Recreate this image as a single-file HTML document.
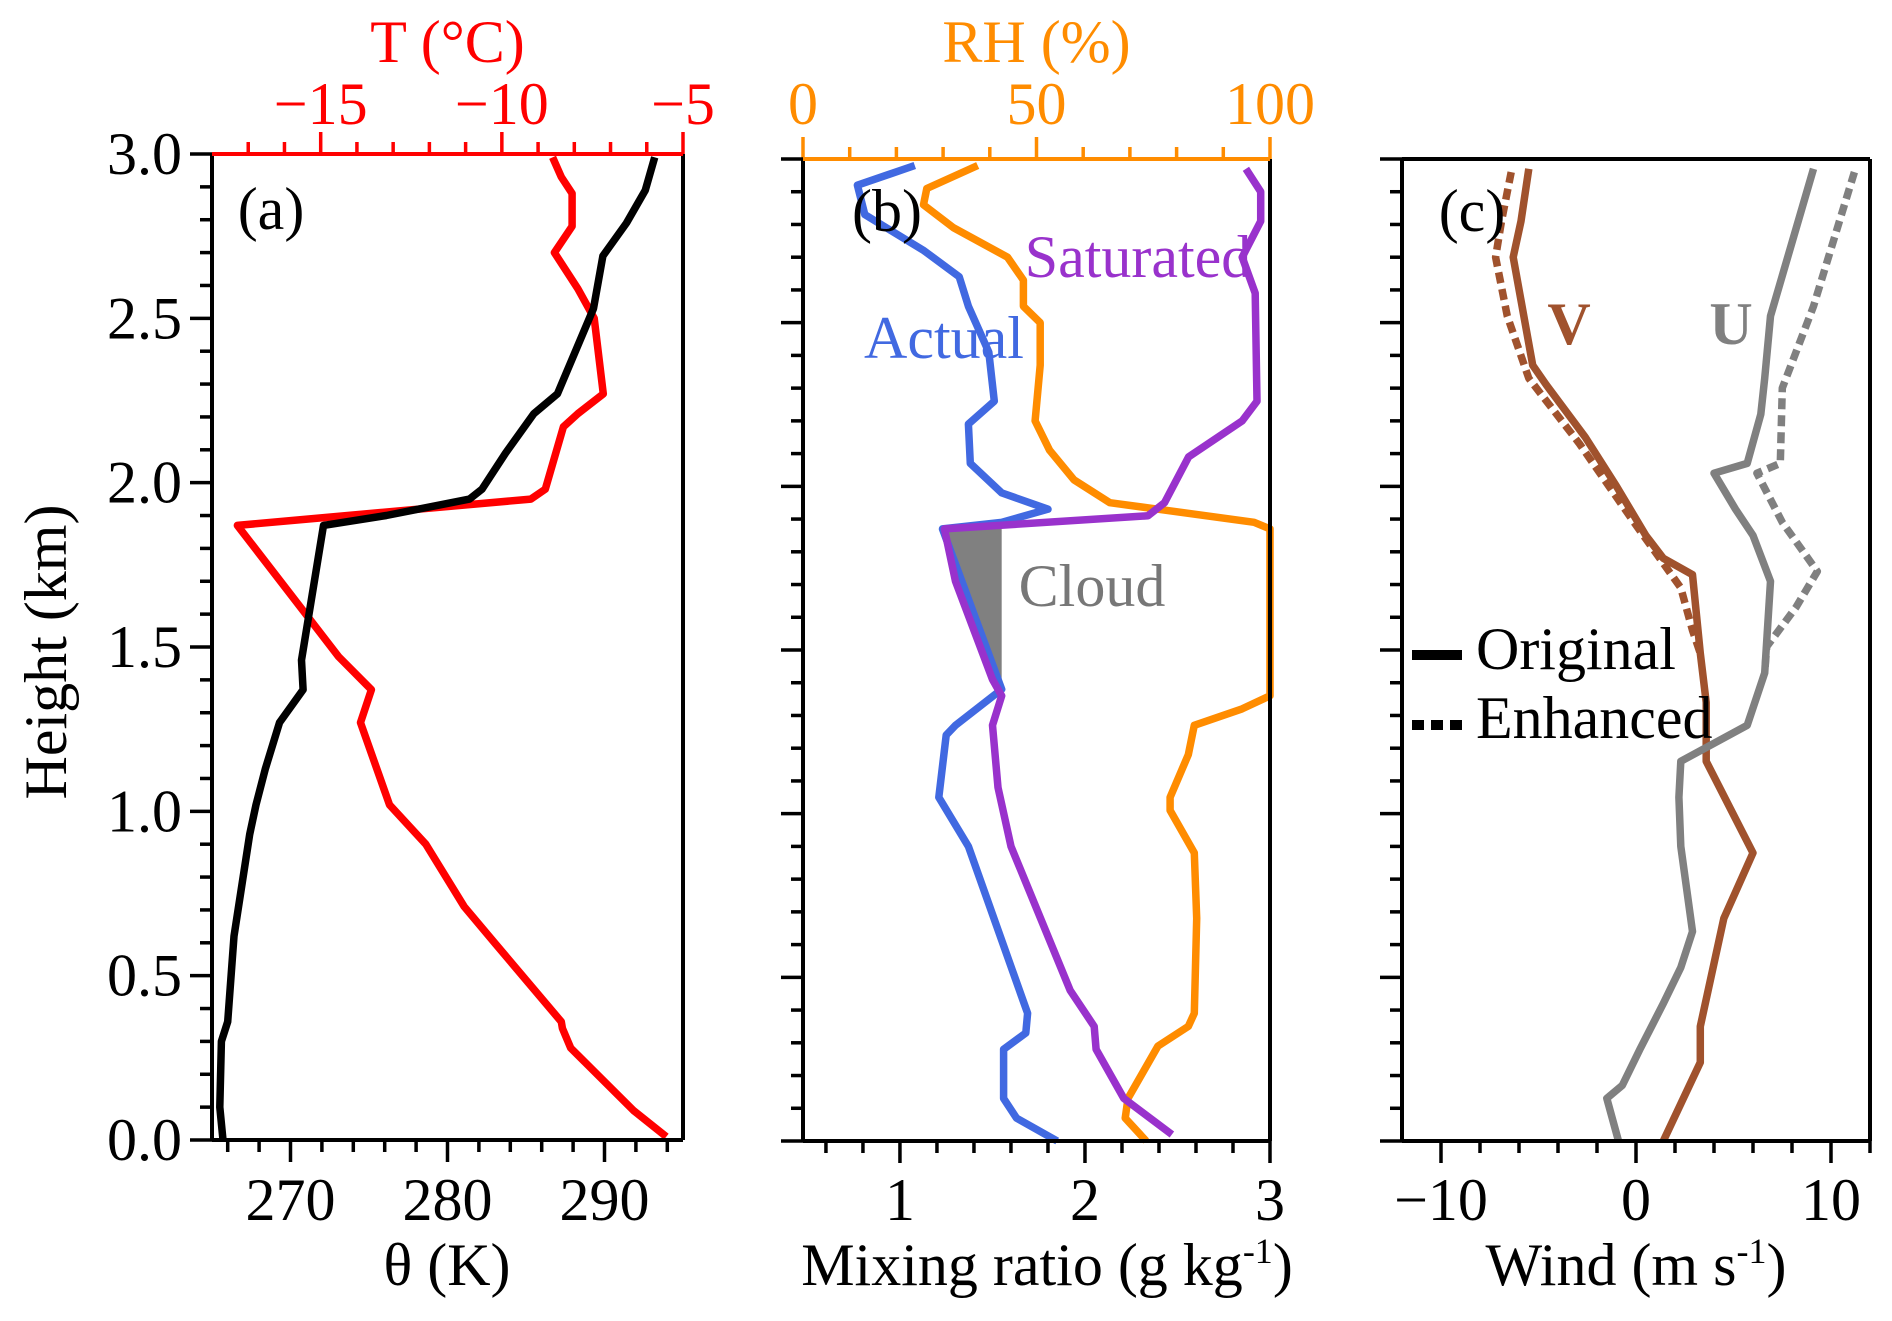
<!DOCTYPE html>
<html><head><meta charset="utf-8"><style>
html,body{margin:0;padding:0;background:#fff;}
svg text{font-family:"Liberation Serif",serif;}
</style></head><body>
<svg id="chart" width="1892" height="1316" viewBox="0 0 1892 1316" xmlns="http://www.w3.org/2000/svg"></svg>
<script>
// ---------- data ----------
// Panel (a)
const thetaH = [0,0.10,0.30,0.36,0.62,0.93,1.02,1.13,1.27,1.37,1.46,1.87,1.90,1.95,1.98,2.09,2.21,2.27,2.53,2.69,2.79,2.89,2.99];
const thetaV = [265.7,265.5,265.6,266.0,266.4,267.4,267.8,268.4,269.3,270.8,270.7,272.1,276.1,281.4,282.2,283.7,285.5,287.0,289.3,289.9,291.4,292.6,293.2];
const tempH = [0.01,0.09,0.28,0.34,0.36,0.60,0.71,0.90,1.02,1.27,1.37,1.47,1.87,1.95,1.98,2.17,2.21,2.27,2.50,2.59,2.70,2.78,2.88,2.93,2.99];
const tempV = [-5.46,-6.37,-8.1,-8.33,-8.36,-10.2,-11.04,-12.1,-13.1,-13.9,-13.6,-14.5,-17.3,-9.2,-8.8,-8.3,-7.9,-7.2,-7.45,-7.9,-8.55,-8.06,-8.06,-8.36,-8.6];
// Panel (b)
const actualH = [2.98,2.92,2.83,2.72,2.64,2.55,2.41,2.26,2.19,2.07,1.98,1.93,1.89,1.87,1.38,1.27,1.24,1.05,0.90,0.39,0.33,0.28,0.13,0.07,0.0];
const actualV = [1.08,0.77,0.81,1.13,1.32,1.37,1.48,1.51,1.37,1.38,1.55,1.80,1.55,1.23,1.55,1.30,1.25,1.21,1.37,1.69,1.68,1.56,1.56,1.63,1.85];
const satH = [2.97,2.90,2.81,2.70,2.59,2.26,2.20,2.09,1.95,1.91,1.87,1.71,1.56,1.41,1.36,1.27,1.08,0.90,0.68,0.46,0.35,0.28,0.13,0.02];
const satV = [2.87,2.95,2.95,2.85,2.92,2.93,2.85,2.56,2.43,2.34,1.24,1.30,1.40,1.50,1.55,1.50,1.53,1.60,1.76,1.92,2.05,2.06,2.21,2.47];
const rhH = [2.98,2.91,2.86,2.79,2.70,2.63,2.55,2.50,2.37,2.20,2.11,2.02,1.95,1.93,1.89,1.87,1.36,1.32,1.27,1.18,1.05,1.01,0.88,0.68,0.39,0.35,0.29,0.13,0.07,0.0];
const rhV = [37.4,26.5,25.8,32.2,43.8,47.2,47.2,50.8,50.8,49.7,52.8,58,65.7,76,96.6,100,100,94,83.8,82.5,78.6,78.6,83.8,84.3,83.8,82.5,76,69.6,69,73.5];
const cloudTop = 1.875, cloudBottom = 1.36, cloudEdge = 1.55;
// Panel (c)
const vH = [2.97,2.81,2.70,2.37,2.31,2.15,2.0,1.85,1.78,1.73,1.49,1.34,1.16,0.88,0.68,0.35,0.24,0.0];
const vOrig = [-5.5,-5.9,-6.3,-5.3,-4.6,-2.6,-1.0,0.5,1.4,2.9,3.3,3.6,3.6,6.0,4.5,3.3,3.3,1.4];
const vEnhH = [2.96,2.81,2.70,2.52,2.33,2.13,1.89,1.69,1.56,1.49];
const vEnh = [-6.4,-6.9,-7.2,-6.6,-5.5,-2.9,-0.1,2.3,2.9,3.3];
const uH = [2.97,2.52,2.33,2.22,2.07,2.04,1.93,1.85,1.71,1.43,1.27,1.16,1.05,0.90,0.64,0.53,0.42,0.28,0.17,0.13,0.0];
const uOrig = [9.1,6.9,6.6,6.4,5.7,4.0,5.1,6.0,6.9,6.6,5.7,2.3,2.2,2.3,2.9,2.3,1.4,0.2,-0.7,-1.5,-0.9];
const uEnhH = [2.96,2.55,2.30,2.07,2.04,1.89,1.74,1.63,1.51,1.43];
const uEnh = [11.2,9.1,7.5,7.4,6.2,7.5,9.3,8.2,6.7,6.6];
// tick labels
const hTicks = ["0.0","0.5","1.0","1.5","2.0","2.5","3.0"];
const thetaTicks = [270,280,290];
const tTicks = [-15,-10,-5];
const mrTicks = [1,2,3];
const rhTicks = [0,50,100];
const windTicks = [-10,0,10];

// ---------- helpers ----------
const NS = "http://www.w3.org/2000/svg";
const svg = document.getElementById("chart");
const FS = 60, LW = 7.5;
function mk(tag, attrs, parent) {
  const e = document.createElementNS(NS, tag);
  for (const k in attrs) e.setAttribute(k, attrs[k]);
  (parent || svg).appendChild(e);
  return e;
}
function lin(d0, d1, r0, r1) { return v => r0 + (v - d0) / (d1 - d0) * (r1 - r0); }
function txt(x, y, s, size, color, anchor, name, extra) {
  const t = mk("text", Object.assign({x: x, y: y, "font-size": size, fill: color, "text-anchor": anchor || "middle"}, extra || {}));
  t.textContent = s;
  
  
  return t;
}
function fmt(v) { return v < 0 ? "\u2212" + Math.abs(v) : String(v); }
function poly(xs, ys, sx, sy, color, w, name, dash) {
  const pts = xs.map((v, i) => sx(v).toFixed(1) + "," + sy(ys[i]).toFixed(1)).join(" ");
  const a = {points: pts, fill: "none", stroke: color, "stroke-width": w, "stroke-linejoin": "round"};
  if (dash) a["stroke-dasharray"] = dash;
  const p = mk("polyline", a);
  
  
  return p;
}
function tick(x1, y1, x2, y2, color, name) {
  const l = mk("line", {x1: x1, y1: y1, x2: x2, y2: y2, stroke: color, "stroke-width": 3.5});
  
  
}
function heightAxis(sy, x, label) {
  for (let i = 0; i <= 30; i++) {
    const y = sy(i / 10), major = i % 5 === 0;
    tick(x, y, x - (major ? 22 : 12), y, "#000", major ? "y-major-tick" : "y-minor-tick");
    if (major && label) txt(x - 30, y + 20, hTicks[i / 5], FS, "#000", "end", "y-tick-label");
  }
}
function box(x0, y0, x1, y1, topColor, name) {
  const g = mk("g", {});
  
  
  mk("line", {x1: x0, y1: y1, x2: x1, y2: y1, stroke: "#000", "stroke-width": 4}, g);
  mk("line", {x1: x0, y1: y0, x2: x0, y2: y1, stroke: "#000", "stroke-width": 4}, g);
  mk("line", {x1: x1, y1: y0, x2: x1, y2: y1, stroke: "#000", "stroke-width": 4}, g);
  mk("line", {x1: x0, y1: y0, x2: x1, y2: y0, stroke: topColor, "stroke-width": 4}, g);
}

// ---------- panel (a) ----------
const aL = 212, aR = 683, aT = 154, aB = 1140;
const syA = lin(0, 3, aB, aT);
const sTheta = lin(265, 295, aL, aR);
const sT = lin(-18, -5, aL, aR);
for (let k = 266; k <= 294; k += 2) {
  const major = k % 10 === 0;
  tick(sTheta(k), aB, sTheta(k), aB + (major ? 22 : 12), "#000", "theta-tick");
}
thetaTicks.forEach(v => txt(sTheta(v), 1220, String(v), FS, "#000", "middle", "theta-tick-label"));
for (let k = -17; k <= -5; k++) {
  const major = k % 5 === 0;
  tick(sT(k), aT, sT(k), aT - (major ? 22 : 12), "#ff0000", "temperature-tick");
}
tTicks.forEach(v => txt(sT(v), 124, fmt(v), FS, "#ff0000", "middle", "temperature-tick-label"));
heightAxis(syA, aL, true);
poly(tempV, tempH, sT, syA, "#ff0000", LW, "temperature-line");
poly(thetaV, thetaH, sTheta, syA, "#000", LW, "theta-line");
box(aL, aT, aR, aB, "#ff0000", "panel-a-frame");
txt(271, 229, "(a)", FS, "#000", "middle", "panel-a-label");
txt(sT(-11.5), 62, "T (\u00B0C)", FS, "#ff0000", "middle", "temperature-axis-title");
txt(447, 1285, "\u03B8 (K)", FS, "#000", "middle", "theta-axis-title");
txt(46, 652, "Height (km)", FS, "#000", "middle", "y-axis-title", {transform: "rotate(-90 46 652)", dy: "20"});

// ---------- panel (b) ----------
const bL = 803, bR = 1270, bT = 159, bB = 1141;
const syB = lin(0, 3, bB, bT);
const sMR = lin(0.476, 3, bL, bR);
const sRH = lin(0, 100, bL, bR);
for (let k = 6; k <= 30; k += 2) {
  const v = k / 10, major = k % 10 === 0;
  tick(sMR(v), bB, sMR(v), bB + (major ? 22 : 12), "#000", "mixing-ratio-tick");
}
mrTicks.forEach(v => txt(sMR(v), 1220, String(v), FS, "#000", "middle", "mixing-ratio-tick-label"));
for (let k = 0; k <= 100; k += 10) {
  const major = k % 50 === 0;
  tick(sRH(k), bT, sRH(k), bT - (major ? 22 : 12), "#ff8c00", "rh-tick");
}
rhTicks.forEach(v => txt(sRH(v), 124, String(v), FS, "#ff8c00", "middle", "rh-tick-label"));
heightAxis(syB, bL, false);
// cloud shading
{
  const xs = [], ys = [];
  satH.forEach((h, i) => { if (h <= cloudTop && h >= cloudBottom) { xs.push(satV[i]); ys.push(h); } });
  xs.push(cloudEdge); ys.push(cloudBottom);
  xs.push(cloudEdge); ys.push(cloudTop + 0.01);
  const pts = xs.map((v, i) => sMR(v).toFixed(1) + "," + syB(ys[i]).toFixed(1)).join(" ");
  const c = mk("polygon", {points: pts, fill: "#808080", stroke: "none"});
  
  
}
poly(actualV, actualH, sMR, syB, "#4169e1", LW, "actual-mixing-ratio-line");
poly(rhV, rhH, sRH, syB, "#ff8c00", LW, "rh-line");
poly(satV, satH, sMR, syB, "#9932cc", LW, "saturated-mixing-ratio-line");
box(bL, bT, bR, bB, "#ff8c00", "panel-b-frame");
txt(887, 231, "(b)", FS, "#000", "middle", "panel-b-label");
txt(1138, 277, "Saturated", FS, "#9932cc", "middle", "saturated-label");
txt(944, 358, "Actual", FS, "#4169e1", "middle", "actual-label");
txt(1092, 606, "Cloud", FS, "#777", "middle", "cloud-label");
txt(sRH(50), 62, "RH (%)", FS, "#ff8c00", "middle", "rh-axis-title");
{
  const t = txt(1047, 1285, "Mixing ratio (g kg", FS, "#000", "middle", "mixing-ratio-axis-title");
  const sup = mk("tspan", {dy: "-22", "font-size": 36}, t); sup.textContent = "-1";
  const cl = mk("tspan", {dy: "22"}, t); cl.textContent = ")";
}

// ---------- panel (c) ----------
const cL = 1402, cR = 1870, cT = 159, cB = 1141;
const syC = lin(0, 3, cB, cT);
const sW = lin(-12, 12, cL, cR);
for (let k = -10; k <= 12; k += 2) {
  const major = k % 10 === 0;
  tick(sW(k), cB, sW(k), cB + (major ? 22 : 12), "#000", "wind-tick");
}
windTicks.forEach(v => txt(sW(v), 1220, fmt(v), FS, "#000", "middle", "wind-tick-label"));
heightAxis(syC, cL, false);
poly(vEnh, vEnhH, sW, syC, "#a0522d", LW, "v-enhanced-line", "11,6");
poly(uEnh, uEnhH, sW, syC, "#808080", LW, "u-enhanced-line", "11,6");
poly(vOrig, vH, sW, syC, "#a0522d", LW, "v-original-line");
poly(uOrig, uH, sW, syC, "#808080", LW, "u-original-line");
box(cL, cT, cR, cB, "#000", "panel-c-frame");
txt(1472, 231, "(c)", FS, "#000", "middle", "panel-c-label");
txt(1569, 344, "V", FS, "#a0522d", "middle", "v-label", {"font-weight": "bold"});
txt(1731, 344, "U", FS, "#808080", "middle", "u-label", {"font-weight": "bold"});
{
  const g = mk("g", {});
  
  
  const l1 = mk("line", {x1: 1412, y1: 655, x2: 1462, y2: 655, stroke: "#000", "stroke-width": 10}, g);
  
  
  const l2 = mk("line", {x1: 1412, y1: 725, x2: 1462, y2: 725, stroke: "#000", "stroke-width": 10, "stroke-dasharray": "12,7"}, g);
  
  
}
txt(1476, 669, "Original", FS, "#000", "start", "legend-original-label");
txt(1476, 738, "Enhanced", FS, "#000", "start", "legend-enhanced-label");
{
  const t = txt(1636, 1285, "Wind (m s", FS, "#000", "middle", "wind-axis-title");
  const sup = mk("tspan", {dy: "-22", "font-size": 36}, t); sup.textContent = "-1";
  const cl = mk("tspan", {dy: "22"}, t); cl.textContent = ")";
}
</script>
</body></html>
